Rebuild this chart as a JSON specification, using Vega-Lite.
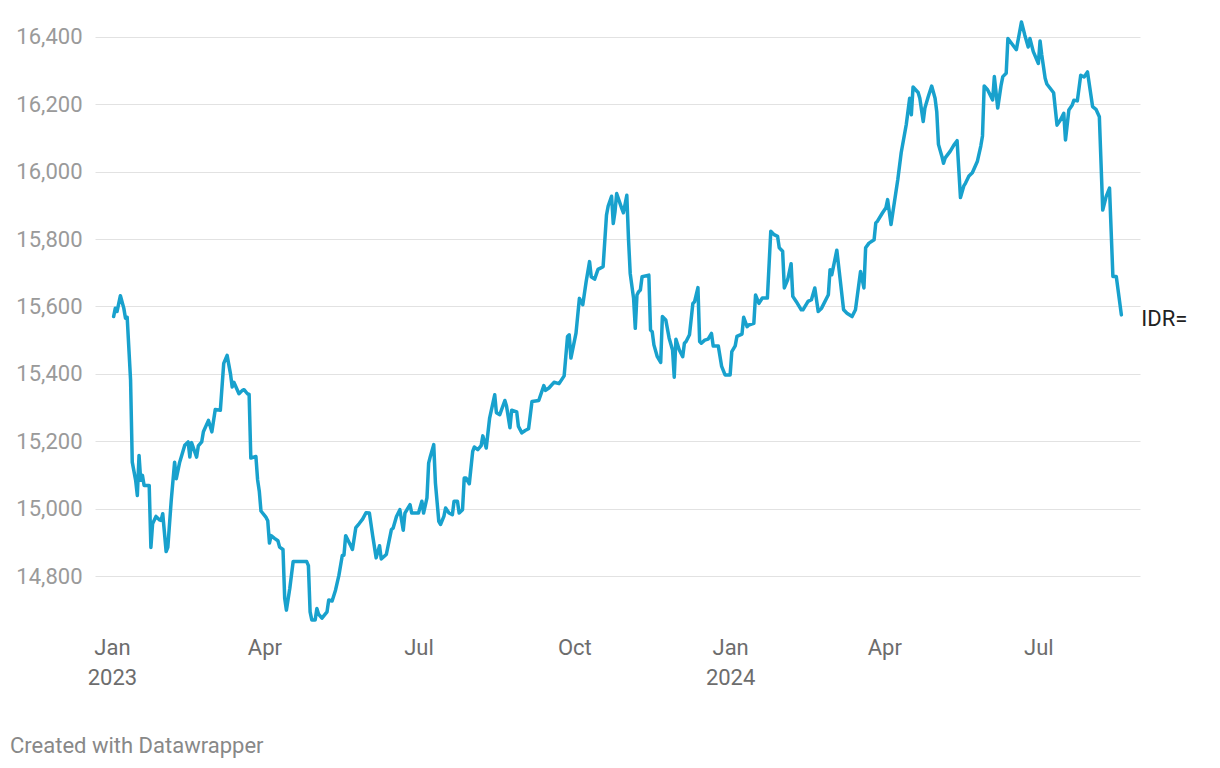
{
  "$schema": "https://vega.github.io/schema/vega-lite/v6.json",
  "width": 1045,
  "height": 610,
  "autosize": {"type": "none"},
  "padding": {"left": 95, "top": 20, "right": 80, "bottom": 138},
  "background": "white",
  "config": {"view": {"stroke": null}, "font": "Roboto"},
  "title": {
    "text": "Created with Datawrapper",
    "orient": "bottom",
    "anchor": "start",
    "frame": "group",
    "dx": -85,
    "offset": 48,
    "fontSize": 22,
    "fontWeight": "normal",
    "color": "#888888",
    "font": "Roboto"
  },
  "data": {
    "values": [
      {"date": "2023-01-02", "value": 15570},
      {"date": "2023-01-03", "value": 15595},
      {"date": "2023-01-04", "value": 15585},
      {"date": "2023-01-06", "value": 15632},
      {"date": "2023-01-08", "value": 15595},
      {"date": "2023-01-09", "value": 15565},
      {"date": "2023-01-10", "value": 15568},
      {"date": "2023-01-12", "value": 15382},
      {"date": "2023-01-13", "value": 15138},
      {"date": "2023-01-15", "value": 15084},
      {"date": "2023-01-16", "value": 15039},
      {"date": "2023-01-17", "value": 15158},
      {"date": "2023-01-18", "value": 15084},
      {"date": "2023-01-19", "value": 15099},
      {"date": "2023-01-20", "value": 15069},
      {"date": "2023-01-23", "value": 15069},
      {"date": "2023-01-24", "value": 14885},
      {"date": "2023-01-25", "value": 14955},
      {"date": "2023-01-27", "value": 14977},
      {"date": "2023-01-29", "value": 14967},
      {"date": "2023-01-30", "value": 14965},
      {"date": "2023-01-31", "value": 14985},
      {"date": "2023-02-02", "value": 14873},
      {"date": "2023-02-03", "value": 14885},
      {"date": "2023-02-05", "value": 15024},
      {"date": "2023-02-07", "value": 15138},
      {"date": "2023-02-08", "value": 15089},
      {"date": "2023-02-10", "value": 15138},
      {"date": "2023-02-13", "value": 15188},
      {"date": "2023-02-15", "value": 15198},
      {"date": "2023-02-16", "value": 15153},
      {"date": "2023-02-17", "value": 15196},
      {"date": "2023-02-20", "value": 15153},
      {"date": "2023-02-21", "value": 15186},
      {"date": "2023-02-23", "value": 15198},
      {"date": "2023-02-24", "value": 15228},
      {"date": "2023-02-27", "value": 15262},
      {"date": "2023-03-01", "value": 15228},
      {"date": "2023-03-03", "value": 15294},
      {"date": "2023-03-06", "value": 15292},
      {"date": "2023-03-08", "value": 15431},
      {"date": "2023-03-10", "value": 15455},
      {"date": "2023-03-12", "value": 15400},
      {"date": "2023-03-13", "value": 15361},
      {"date": "2023-03-14", "value": 15375},
      {"date": "2023-03-17", "value": 15341},
      {"date": "2023-03-19", "value": 15351},
      {"date": "2023-03-20", "value": 15353},
      {"date": "2023-03-22", "value": 15341},
      {"date": "2023-03-23", "value": 15339},
      {"date": "2023-03-24", "value": 15150},
      {"date": "2023-03-27", "value": 15155},
      {"date": "2023-03-28", "value": 15086},
      {"date": "2023-03-29", "value": 15052},
      {"date": "2023-03-30", "value": 14993},
      {"date": "2023-04-02", "value": 14974},
      {"date": "2023-04-03", "value": 14964},
      {"date": "2023-04-04", "value": 14898},
      {"date": "2023-04-05", "value": 14920},
      {"date": "2023-04-07", "value": 14912},
      {"date": "2023-04-09", "value": 14905},
      {"date": "2023-04-10", "value": 14886},
      {"date": "2023-04-12", "value": 14879},
      {"date": "2023-04-13", "value": 14734},
      {"date": "2023-04-14", "value": 14699},
      {"date": "2023-04-16", "value": 14763},
      {"date": "2023-04-18", "value": 14843},
      {"date": "2023-04-26", "value": 14843},
      {"date": "2023-04-27", "value": 14831},
      {"date": "2023-04-28", "value": 14694},
      {"date": "2023-04-29", "value": 14670},
      {"date": "2023-05-01", "value": 14670},
      {"date": "2023-05-02", "value": 14704},
      {"date": "2023-05-03", "value": 14687},
      {"date": "2023-05-05", "value": 14675},
      {"date": "2023-05-08", "value": 14694},
      {"date": "2023-05-09", "value": 14729},
      {"date": "2023-05-11", "value": 14726},
      {"date": "2023-05-13", "value": 14758},
      {"date": "2023-05-15", "value": 14802},
      {"date": "2023-05-17", "value": 14861},
      {"date": "2023-05-18", "value": 14862},
      {"date": "2023-05-19", "value": 14920},
      {"date": "2023-05-22", "value": 14890},
      {"date": "2023-05-23", "value": 14879},
      {"date": "2023-05-25", "value": 14944},
      {"date": "2023-05-27", "value": 14956},
      {"date": "2023-05-29", "value": 14969},
      {"date": "2023-05-31", "value": 14988},
      {"date": "2023-06-02", "value": 14987},
      {"date": "2023-06-04", "value": 14918},
      {"date": "2023-06-06", "value": 14854},
      {"date": "2023-06-08", "value": 14890},
      {"date": "2023-06-09", "value": 14851},
      {"date": "2023-06-12", "value": 14864},
      {"date": "2023-06-15", "value": 14938},
      {"date": "2023-06-16", "value": 14942},
      {"date": "2023-06-18", "value": 14977},
      {"date": "2023-06-20", "value": 14997},
      {"date": "2023-06-22", "value": 14936},
      {"date": "2023-06-23", "value": 14987},
      {"date": "2023-06-26", "value": 15012},
      {"date": "2023-06-27", "value": 14987},
      {"date": "2023-07-01", "value": 14987},
      {"date": "2023-07-03", "value": 15022},
      {"date": "2023-07-04", "value": 14987},
      {"date": "2023-07-06", "value": 15032},
      {"date": "2023-07-07", "value": 15135},
      {"date": "2023-07-08", "value": 15155},
      {"date": "2023-07-10", "value": 15190},
      {"date": "2023-07-11", "value": 15076},
      {"date": "2023-07-13", "value": 14962},
      {"date": "2023-07-14", "value": 14953},
      {"date": "2023-07-16", "value": 14977},
      {"date": "2023-07-17", "value": 15002},
      {"date": "2023-07-19", "value": 14987},
      {"date": "2023-07-21", "value": 14982},
      {"date": "2023-07-22", "value": 15022},
      {"date": "2023-07-24", "value": 15022},
      {"date": "2023-07-25", "value": 14987},
      {"date": "2023-07-27", "value": 14997},
      {"date": "2023-07-28", "value": 15091},
      {"date": "2023-07-29", "value": 15091},
      {"date": "2023-07-31", "value": 15074},
      {"date": "2023-08-02", "value": 15170},
      {"date": "2023-08-03", "value": 15183},
      {"date": "2023-08-05", "value": 15175},
      {"date": "2023-08-07", "value": 15187},
      {"date": "2023-08-08", "value": 15216},
      {"date": "2023-08-10", "value": 15180},
      {"date": "2023-08-12", "value": 15269},
      {"date": "2023-08-15", "value": 15338},
      {"date": "2023-08-16", "value": 15285},
      {"date": "2023-08-18", "value": 15279},
      {"date": "2023-08-21", "value": 15321},
      {"date": "2023-08-22", "value": 15304},
      {"date": "2023-08-24", "value": 15240},
      {"date": "2023-08-25", "value": 15292},
      {"date": "2023-08-28", "value": 15287},
      {"date": "2023-08-29", "value": 15244},
      {"date": "2023-08-31", "value": 15225},
      {"date": "2023-09-02", "value": 15232},
      {"date": "2023-09-04", "value": 15237},
      {"date": "2023-09-06", "value": 15318},
      {"date": "2023-09-10", "value": 15321},
      {"date": "2023-09-13", "value": 15365},
      {"date": "2023-09-14", "value": 15351},
      {"date": "2023-09-16", "value": 15358},
      {"date": "2023-09-19", "value": 15375},
      {"date": "2023-09-22", "value": 15371},
      {"date": "2023-09-25", "value": 15394},
      {"date": "2023-09-27", "value": 15511},
      {"date": "2023-09-28", "value": 15516},
      {"date": "2023-09-29", "value": 15447},
      {"date": "2023-10-02", "value": 15521},
      {"date": "2023-10-04", "value": 15624},
      {"date": "2023-10-06", "value": 15605},
      {"date": "2023-10-08", "value": 15674},
      {"date": "2023-10-10", "value": 15733},
      {"date": "2023-10-11", "value": 15688},
      {"date": "2023-10-13", "value": 15681},
      {"date": "2023-10-15", "value": 15710},
      {"date": "2023-10-18", "value": 15718},
      {"date": "2023-10-20", "value": 15871},
      {"date": "2023-10-21", "value": 15898},
      {"date": "2023-10-23", "value": 15927},
      {"date": "2023-10-24", "value": 15846},
      {"date": "2023-10-25", "value": 15880},
      {"date": "2023-10-26", "value": 15935},
      {"date": "2023-10-29", "value": 15891},
      {"date": "2023-10-30", "value": 15878},
      {"date": "2023-11-01", "value": 15930},
      {"date": "2023-11-02", "value": 15800},
      {"date": "2023-11-03", "value": 15698},
      {"date": "2023-11-05", "value": 15624},
      {"date": "2023-11-06", "value": 15535},
      {"date": "2023-11-07", "value": 15634},
      {"date": "2023-11-08", "value": 15644},
      {"date": "2023-11-09", "value": 15649},
      {"date": "2023-11-10", "value": 15688},
      {"date": "2023-11-14", "value": 15693},
      {"date": "2023-11-15", "value": 15530},
      {"date": "2023-11-16", "value": 15525},
      {"date": "2023-11-17", "value": 15486},
      {"date": "2023-11-19", "value": 15451},
      {"date": "2023-11-21", "value": 15434},
      {"date": "2023-11-22", "value": 15570},
      {"date": "2023-11-24", "value": 15560},
      {"date": "2023-11-26", "value": 15506},
      {"date": "2023-11-28", "value": 15471},
      {"date": "2023-11-29", "value": 15390},
      {"date": "2023-11-30", "value": 15503},
      {"date": "2023-12-02", "value": 15471},
      {"date": "2023-12-04", "value": 15451},
      {"date": "2023-12-05", "value": 15491},
      {"date": "2023-12-06", "value": 15496},
      {"date": "2023-12-08", "value": 15516},
      {"date": "2023-12-10", "value": 15609},
      {"date": "2023-12-11", "value": 15614},
      {"date": "2023-12-13", "value": 15656},
      {"date": "2023-12-14", "value": 15496},
      {"date": "2023-12-15", "value": 15491},
      {"date": "2023-12-17", "value": 15500},
      {"date": "2023-12-19", "value": 15503},
      {"date": "2023-12-21", "value": 15520},
      {"date": "2023-12-22", "value": 15483},
      {"date": "2023-12-25", "value": 15483},
      {"date": "2023-12-27", "value": 15422},
      {"date": "2023-12-29", "value": 15397},
      {"date": "2024-01-01", "value": 15397},
      {"date": "2024-01-02", "value": 15466},
      {"date": "2024-01-04", "value": 15483},
      {"date": "2024-01-05", "value": 15511},
      {"date": "2024-01-08", "value": 15518},
      {"date": "2024-01-09", "value": 15568},
      {"date": "2024-01-11", "value": 15540},
      {"date": "2024-01-12", "value": 15545},
      {"date": "2024-01-15", "value": 15550},
      {"date": "2024-01-16", "value": 15634},
      {"date": "2024-01-18", "value": 15609},
      {"date": "2024-01-20", "value": 15625},
      {"date": "2024-01-23", "value": 15625},
      {"date": "2024-01-25", "value": 15823},
      {"date": "2024-01-27", "value": 15813},
      {"date": "2024-01-29", "value": 15808},
      {"date": "2024-01-30", "value": 15774},
      {"date": "2024-02-01", "value": 15764},
      {"date": "2024-02-02", "value": 15655},
      {"date": "2024-02-04", "value": 15680},
      {"date": "2024-02-06", "value": 15727},
      {"date": "2024-02-07", "value": 15630},
      {"date": "2024-02-09", "value": 15615},
      {"date": "2024-02-12", "value": 15590},
      {"date": "2024-02-13", "value": 15590},
      {"date": "2024-02-16", "value": 15615},
      {"date": "2024-02-18", "value": 15620},
      {"date": "2024-02-20", "value": 15655},
      {"date": "2024-02-22", "value": 15585},
      {"date": "2024-02-24", "value": 15595},
      {"date": "2024-02-28", "value": 15635},
      {"date": "2024-02-29", "value": 15709},
      {"date": "2024-03-01", "value": 15694},
      {"date": "2024-03-04", "value": 15767},
      {"date": "2024-03-06", "value": 15679},
      {"date": "2024-03-08", "value": 15590},
      {"date": "2024-03-10", "value": 15580},
      {"date": "2024-03-13", "value": 15570},
      {"date": "2024-03-15", "value": 15590},
      {"date": "2024-03-18", "value": 15704},
      {"date": "2024-03-19", "value": 15680},
      {"date": "2024-03-20", "value": 15655},
      {"date": "2024-03-21", "value": 15774},
      {"date": "2024-03-23", "value": 15788},
      {"date": "2024-03-26", "value": 15798},
      {"date": "2024-03-27", "value": 15848},
      {"date": "2024-03-28", "value": 15853},
      {"date": "2024-03-31", "value": 15878},
      {"date": "2024-04-02", "value": 15893},
      {"date": "2024-04-03", "value": 15917},
      {"date": "2024-04-05", "value": 15843},
      {"date": "2024-04-09", "value": 15977},
      {"date": "2024-04-11", "value": 16056},
      {"date": "2024-04-14", "value": 16140},
      {"date": "2024-04-16", "value": 16218},
      {"date": "2024-04-17", "value": 16169},
      {"date": "2024-04-18", "value": 16251},
      {"date": "2024-04-21", "value": 16235},
      {"date": "2024-04-22", "value": 16218},
      {"date": "2024-04-24", "value": 16149},
      {"date": "2024-04-25", "value": 16189},
      {"date": "2024-04-27", "value": 16223},
      {"date": "2024-04-29", "value": 16254},
      {"date": "2024-05-01", "value": 16218},
      {"date": "2024-05-02", "value": 16178},
      {"date": "2024-05-03", "value": 16081},
      {"date": "2024-05-05", "value": 16046},
      {"date": "2024-05-06", "value": 16025},
      {"date": "2024-05-07", "value": 16041},
      {"date": "2024-05-10", "value": 16061},
      {"date": "2024-05-12", "value": 16078},
      {"date": "2024-05-14", "value": 16092},
      {"date": "2024-05-16", "value": 15923},
      {"date": "2024-05-18", "value": 15958},
      {"date": "2024-05-19", "value": 15966},
      {"date": "2024-05-21", "value": 15987},
      {"date": "2024-05-23", "value": 15997},
      {"date": "2024-05-26", "value": 16031},
      {"date": "2024-05-28", "value": 16076},
      {"date": "2024-05-29", "value": 16106},
      {"date": "2024-05-30", "value": 16254},
      {"date": "2024-06-01", "value": 16243},
      {"date": "2024-06-04", "value": 16213},
      {"date": "2024-06-05", "value": 16282},
      {"date": "2024-06-07", "value": 16189},
      {"date": "2024-06-09", "value": 16257},
      {"date": "2024-06-10", "value": 16282},
      {"date": "2024-06-12", "value": 16292},
      {"date": "2024-06-13", "value": 16395},
      {"date": "2024-06-16", "value": 16375},
      {"date": "2024-06-18", "value": 16362},
      {"date": "2024-06-21", "value": 16444},
      {"date": "2024-06-23", "value": 16405},
      {"date": "2024-06-25", "value": 16370},
      {"date": "2024-06-26", "value": 16395},
      {"date": "2024-06-28", "value": 16356},
      {"date": "2024-07-01", "value": 16321},
      {"date": "2024-07-02", "value": 16388},
      {"date": "2024-07-03", "value": 16346},
      {"date": "2024-07-05", "value": 16277},
      {"date": "2024-07-06", "value": 16260},
      {"date": "2024-07-10", "value": 16234},
      {"date": "2024-07-12", "value": 16138},
      {"date": "2024-07-14", "value": 16153},
      {"date": "2024-07-16", "value": 16173},
      {"date": "2024-07-17", "value": 16094},
      {"date": "2024-07-19", "value": 16183},
      {"date": "2024-07-21", "value": 16198},
      {"date": "2024-07-22", "value": 16212},
      {"date": "2024-07-24", "value": 16210},
      {"date": "2024-07-26", "value": 16286},
      {"date": "2024-07-28", "value": 16281},
      {"date": "2024-07-30", "value": 16296},
      {"date": "2024-08-02", "value": 16193},
      {"date": "2024-08-04", "value": 16185},
      {"date": "2024-08-06", "value": 16163},
      {"date": "2024-08-08", "value": 15886},
      {"date": "2024-08-10", "value": 15926},
      {"date": "2024-08-12", "value": 15951},
      {"date": "2024-08-14", "value": 15689},
      {"date": "2024-08-16", "value": 15689},
      {"date": "2024-08-19", "value": 15575}
    ]
  },
  "encoding": {
    "x": {
      "field": "date",
      "type": "temporal",
      "scale": {
        "type": "utc",
        "domain": [
          {"year": 2022, "month": 12, "date": 22, "utc": true},
          {"year": 2024, "month": 8, "date": 30, "utc": true}
        ]
      },
      "axis": {
        "title": null,
        "values": [
          {"year": 2023, "month": 1, "date": 1, "utc": true},
          {"year": 2023, "month": 4, "date": 1, "utc": true},
          {"year": 2023, "month": 7, "date": 1, "utc": true},
          {"year": 2023, "month": 10, "date": 1, "utc": true},
          {"year": 2024, "month": 1, "date": 1, "utc": true},
          {"year": 2024, "month": 4, "date": 1, "utc": true},
          {"year": 2024, "month": 7, "date": 1, "utc": true}
        ],
        "labelExpr": "utcmonth(datum.value) == 0 ? [utcFormat(datum.value, '%b'), utcFormat(datum.value, '%Y')] : utcFormat(datum.value, '%b')",
        "grid": false,
        "ticks": false,
        "domain": false,
        "labelFontSize": 22,
        "labelFont": "Roboto",
        "labelColor": "#6d6d6d",
        "labelPadding": 7,
        "labelLineHeight": 30,
        "labelOverlap": false,
        "labelFlush": false
      }
    },
    "y": {
      "field": "value",
      "type": "quantitative",
      "scale": {"domain": [14640, 16450], "zero": false, "nice": false},
      "axis": {
        "title": null,
        "values": [14800, 15000, 15200, 15400, 15600, 15800, 16000, 16200, 16400],
        "format": ",.0f",
        "grid": true,
        "gridColor": "#e2e2e2",
        "gridWidth": 1,
        "ticks": false,
        "domain": false,
        "labelFontSize": 22,
        "labelFont": "Roboto",
        "labelColor": "#9a9a9a",
        "labelPadding": 13
      }
    }
  },
  "layer": [
    {
      "mark": {
        "type": "line",
        "color": "#18a1cd",
        "strokeWidth": 3.5,
        "strokeJoin": "round",
        "strokeCap": "round",
        "clip": false
      }
    },
    {
      "data": {"values": [{"date": "2024-08-19", "value": 15575, "label": "IDR="}]},
      "mark": {
        "type": "text",
        "align": "left",
        "baseline": "middle",
        "dx": 20,
        "dy": 4,
        "fontSize": 22,
        "font": "Roboto",
        "color": "#222222"
      },
      "encoding": {"text": {"field": "label"}}
    }
  ]
}
